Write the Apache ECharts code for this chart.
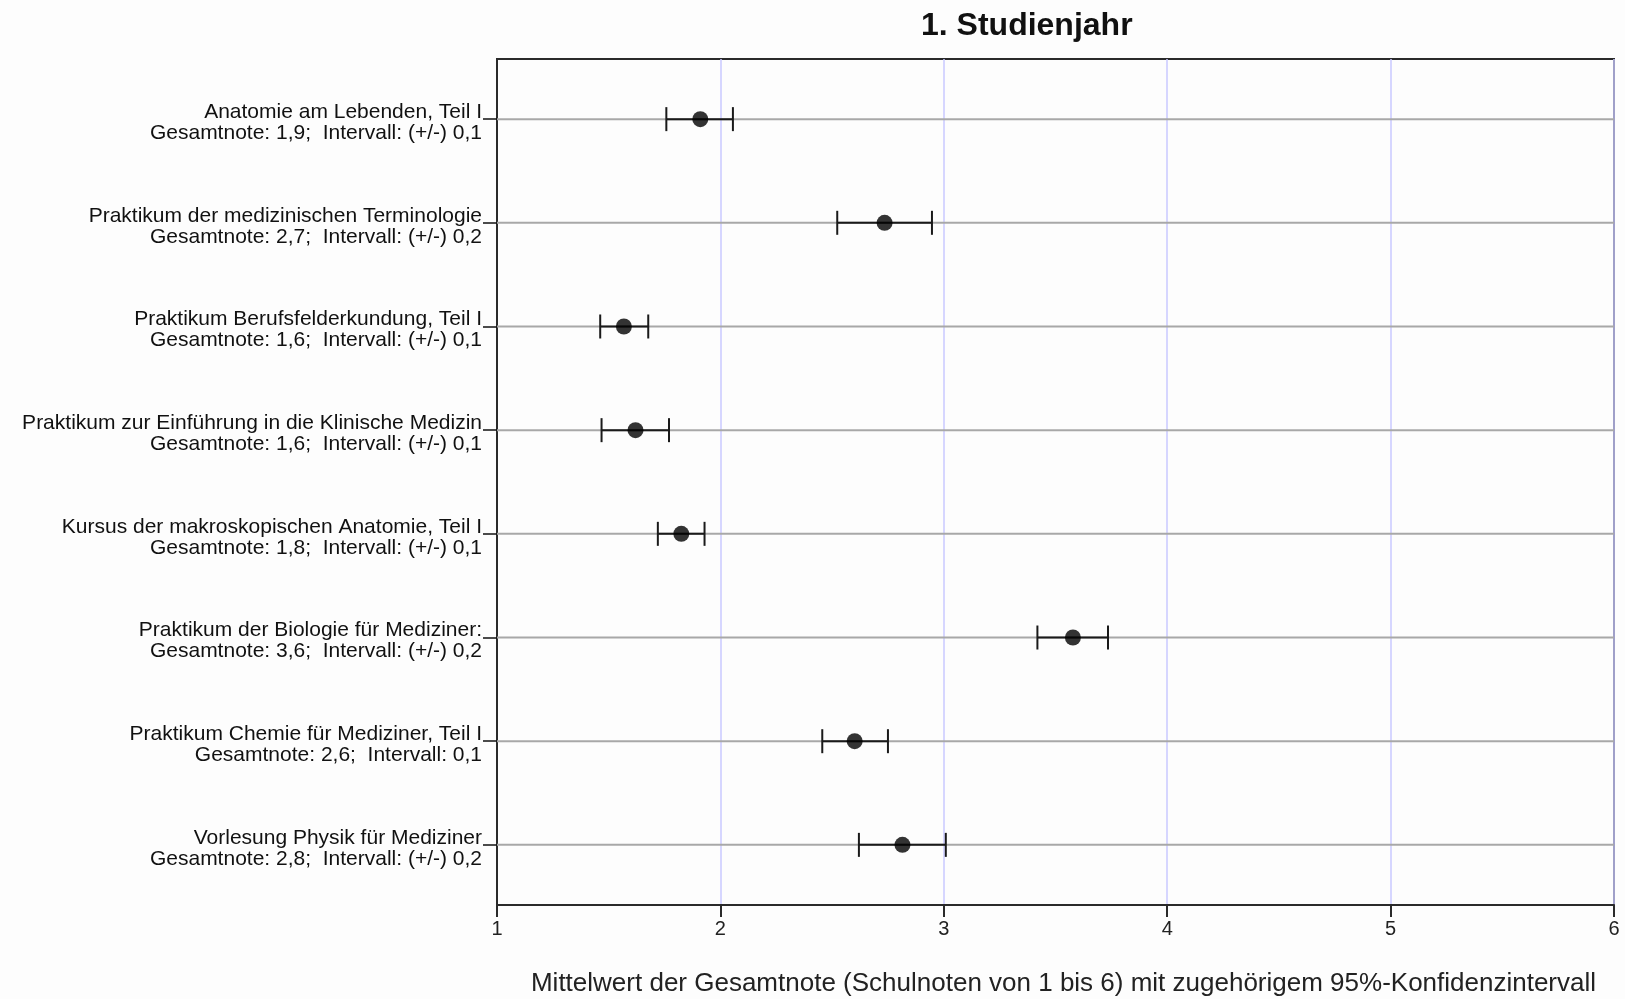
<!DOCTYPE html>
<html>
<head>
<meta charset="utf-8">
<script src="https://cdn.jsdelivr.net/npm/echarts@6/dist/echarts.min.js"></script>
<style>
html,body{margin:0;padding:0;background:#fdfdfd;}
#chart{width:1625px;height:999px;}
</style>
</head>
<body>
<div id="chart"></div>
<script>
const titleText = "1. Studienjahr";
const xAxisTitle = "Mittelwert der Gesamtnote (Schulnoten von 1 bis 6) mit zugehörigem 95%-Konfidenzintervall";
const courses = [
  "Anatomie am Lebenden, Teil I",
  "Praktikum der medizinischen Terminologie",
  "Praktikum Berufsfelderkundung, Teil I",
  "Praktikum zur Einführung in die Klinische Medizin",
  "Kursus der makroskopischen Anatomie, Teil I",
  "Praktikum der Biologie für Mediziner:",
  "Praktikum Chemie für Mediziner, Teil I",
  "Vorlesung Physik für Mediziner"
];
const notes = [
  "Gesamtnote: 1,9;  Intervall: (+/-) 0,1",
  "Gesamtnote: 2,7;  Intervall: (+/-) 0,2",
  "Gesamtnote: 1,6;  Intervall: (+/-) 0,1",
  "Gesamtnote: 1,6;  Intervall: (+/-) 0,1",
  "Gesamtnote: 1,8;  Intervall: (+/-) 0,1",
  "Gesamtnote: 3,6;  Intervall: (+/-) 0,2",
  "Gesamtnote: 2,6;  Intervall: 0,1",
  "Gesamtnote: 2,8;  Intervall: (+/-) 0,2"
];
const means = [1.91, 2.735, 1.568, 1.620, 1.825, 3.578, 2.601, 2.815];
const lows  = [1.758, 2.523, 1.462, 1.468, 1.720, 3.419, 2.456, 2.620];
const highs = [2.056, 2.947, 1.677, 1.770, 1.929, 3.735, 2.750, 3.009];
const xTicks = [1, 2, 3, 4, 5, 6];

const rowPos = courses.map((c, i) => i + 1);
const font = "'Liberation Sans', Arial, sans-serif";

const chart = echarts.init(document.getElementById('chart'), null, {renderer: 'canvas'});

const barData = rowPos.map((p, i) => [p, means[i], lows[i], highs[i]]);
const dotData = rowPos.map((p, i) => [means[i], p]);

const option = {
  backgroundColor: '#fdfdfd',
  animation: false,
  title: {
    text: titleText,
    left: 916,
    top: 5,
    textStyle: {fontFamily: font, fontSize: 32, fontWeight: 'bold', color: '#111'}
  },
  grid: {
    left: 497, right: 11, top: 59, bottom: 94,
    outerBoundsMode: 'none',
    containLabel: false,
    show: true, borderColor: '#2a2a2a', borderWidth: 2, backgroundColor: 'transparent'
  },
  xAxis: {
    type: 'value', min: 1, max: 6, interval: 1,
    axisLine: {show: true, lineStyle: {color: '#2a2a2a', width: 2}},
    axisTick: {show: true, length: 12, lineStyle: {color: '#2a2a2a', width: 2}},
    axisLabel: {fontFamily: font, fontSize: 20, color: '#222', margin: 14,
      customValues: xTicks},
    splitLine: {show: true, lineStyle: {color: '#c8c8ff', width: 1.5}},
    name: xAxisTitle,
    nameLocation: 'middle',
    nameGap: 66,
    nameTextStyle: {fontFamily: font, fontSize: 26, color: '#222', padding: [0, 0, 0, 16]}
  },
  yAxis: {
    type: 'value', inverse: true, min: 0.42, max: 8.58,
    axisLine: {show: true, lineStyle: {color: '#2a2a2a', width: 2}},
    axisTick: {show: true, length: 14, customValues: rowPos, lineStyle: {color: '#111', width: 1.5}},
    axisLabel: {
      customValues: rowPos,
      margin: 15,
      fontFamily: font, fontSize: 21, color: '#111', lineHeight: 21,
      align: 'right',
      verticalAlign: 'middle',
      rich: {
        s: {fontSize: 1, lineHeight: 7},
        t: {fontFamily: font, fontSize: 21, color: '#111', lineHeight: 21}
      },
      formatter: function (v) {
        const i = Math.round(v) - 1;
        return '{s| }\n{t|' + courses[i] + '}\n{t|' + notes[i] + '}';
      }
    },
    splitLine: {show: false}
  },
  series: [
    {
      type: 'custom',
      z: 1,
      renderItem: function (params, api) {
        const y = api.coord([1, api.value(0)])[1];
        const cs = params.coordSys;
        return {
          type: 'line',
          shape: {x1: cs.x, y1: y, x2: cs.x + cs.width, y2: y},
          style: {stroke: '#a8a8a8', lineWidth: 2}
        };
      },
      data: barData
    },
    {
      type: 'custom',
      z: 3,
      renderItem: function (params, api) {
        const p = api.value(0);
        const lo = api.coord([api.value(2), p]);
        const hi = api.coord([api.value(3), p]);
        const h = 12;
        const st = {stroke: '#1a1a1a', lineWidth: 2};
        return {
          type: 'group',
          children: [
            {type: 'line', shape: {x1: lo[0], y1: lo[1], x2: hi[0], y2: hi[1]}, style: st},
            {type: 'line', shape: {x1: lo[0], y1: lo[1] - h, x2: lo[0], y2: lo[1] + h}, style: st},
            {type: 'line', shape: {x1: hi[0], y1: hi[1] - h, x2: hi[0], y2: hi[1] + h}, style: st}
          ]
        };
      },
      data: barData
    },
    {
      type: 'scatter',
      z: 4,
      symbol: 'circle',
      symbolSize: 16,
      itemStyle: {color: '#000'},
      data: dotData
    }
  ]
};
chart.setOption(option);
</script>
</body>
</html>
